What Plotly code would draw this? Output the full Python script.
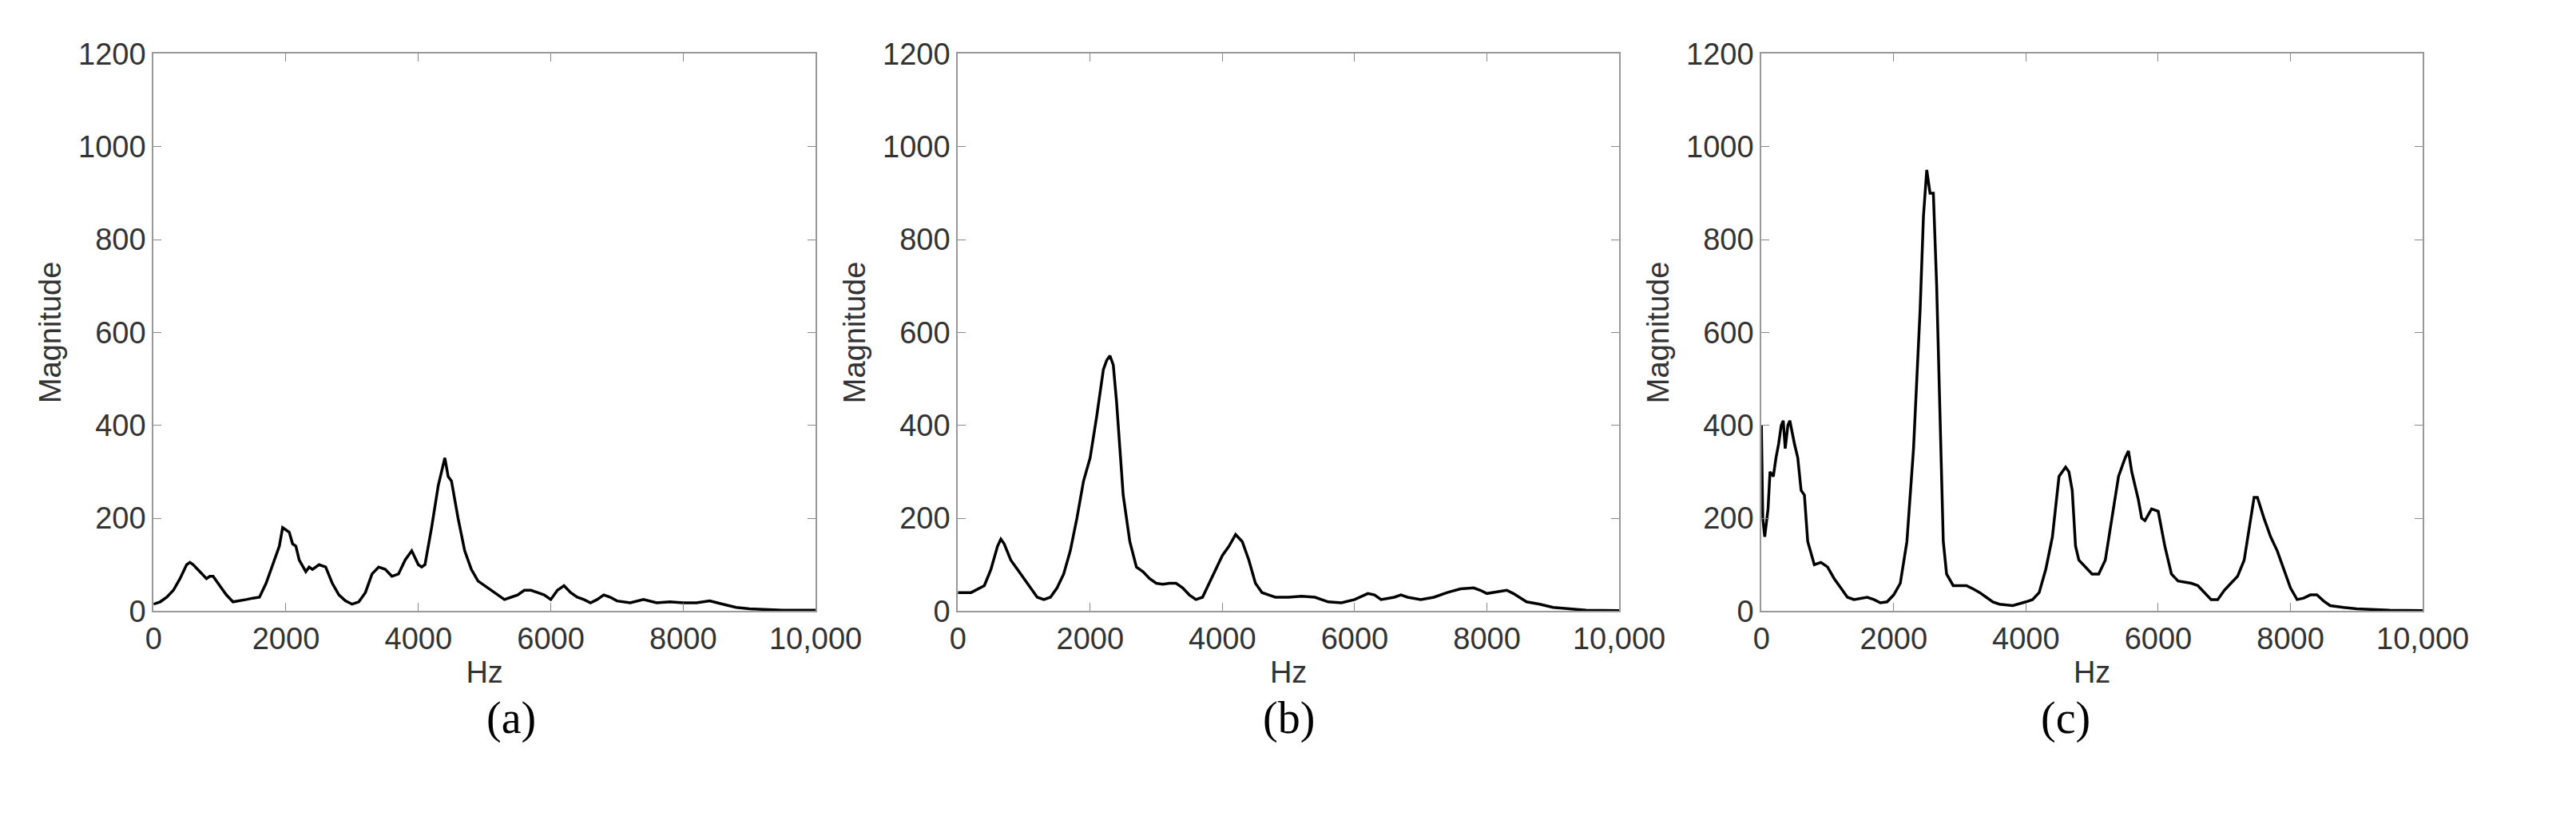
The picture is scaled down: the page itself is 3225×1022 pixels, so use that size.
import plotly.graph_objects as go

xa = [0,100,200,300,400,500,550,600,700,800,850,900,1000,1100,1200,1300,1400,1500,1600,1700,1800,1900,1950,2000,2050,2100,2150,2200,2300,2350,2400,2500,2600,2700,2800,2900,3000,3100,3200,3300,3400,3500,3600,3700,3800,3900,4000,4050,4100,4200,4300,4400,4450,4500,4600,4700,4800,4900,5000,5100,5200,5300,5400,5500,5600,5700,5800,5900,6000,6100,6200,6300,6400,6500,6600,6700,6800,6900,7000,7200,7400,7600,7800,8000,8200,8400,8600,8800,9000,9500,10000]
ya = [15,20,30,45,70,100,105,100,85,70,75,75,55,35,20,22,25,28,30,60,100,140,180,175,170,145,140,110,85,95,90,100,95,60,35,22,15,20,40,80,95,90,75,80,110,130,100,95,100,180,270,330,290,280,200,130,90,65,55,45,35,25,30,35,45,45,40,35,25,45,55,40,30,25,18,25,35,30,22,18,25,18,20,18,18,22,15,8,5,2,2]

xb = [0,200,400,500,600,650,700,800,900,1000,1100,1200,1300,1400,1500,1600,1700,1800,1900,2000,2100,2200,2250,2300,2350,2400,2450,2500,2600,2700,2800,2900,3000,3100,3200,3300,3400,3500,3600,3700,3800,3900,4000,4100,4200,4300,4400,4500,4600,4700,4800,5000,5200,5400,5600,5800,6000,6200,6300,6400,6600,6700,6800,7000,7200,7400,7600,7800,7900,8000,8200,8300,8400,8600,8800,9000,9500,10000]
yb = [40,40,55,90,140,155,145,110,90,70,50,30,25,30,50,80,130,200,280,330,420,520,540,550,530,450,350,250,150,95,85,70,60,58,60,60,50,35,25,30,60,90,120,140,165,150,110,60,40,35,30,30,32,30,20,18,25,38,35,25,30,35,30,25,30,40,48,50,45,38,42,45,38,20,15,8,2,1]

xc = [0,20,50,100,130,180,220,260,300,330,360,400,430,470,500,550,600,650,700,800,900,1000,1100,1200,1300,1400,1500,1600,1700,1800,1900,2000,2100,2200,2300,2400,2450,2500,2550,2600,2650,2700,2750,2800,2900,3000,3100,3200,3300,3400,3500,3600,3800,4000,4100,4200,4300,4400,4500,4600,4650,4700,4750,4800,4900,5000,5100,5200,5300,5400,5500,5550,5600,5700,5750,5800,5900,6000,6100,6200,6300,6500,6600,6700,6800,6900,7000,7100,7200,7300,7400,7450,7500,7600,7700,7800,7900,8000,8100,8200,8300,8400,8500,8600,8800,9000,9500,10000]
yc = [400,200,160,220,300,290,330,360,400,410,350,400,410,380,360,330,260,250,150,100,105,95,70,50,30,25,28,30,25,18,20,35,60,150,350,650,850,950,900,900,700,400,150,80,55,55,55,48,40,30,20,15,12,20,25,40,90,160,290,310,300,260,140,110,95,80,80,110,200,290,330,345,300,240,200,195,220,215,140,80,65,60,55,40,25,25,45,60,75,110,200,245,245,200,160,130,90,50,25,28,35,35,22,12,8,5,2,1]

labels = ["(a)", "(b)", "(c)"]
yticks = [0, 200, 400, 600, 800, 1000, 1200]
xticks = [0, 2000, 4000, 6000, 8000, 10000]
xticktext = ["0", "2000", "4000", "6000", "8000", "10,000"]

W, H = 3225, 1022
doms = [(177, 1024), (1206, 2052), (2234, 3080)]
ytop, ybot = 40, 768
FS = 38

fig = go.Figure()
data = [(xa, ya), (xb, yb), (xc, yc)]
for i, ((x, y), (l, r)) in enumerate(zip(data, doms)):
    n = "" if i == 0 else str(i + 1)
    fig.add_trace(go.Scatter(x=x, y=y, mode="lines", line=dict(color="black", width=3.5),
                             xaxis="x" + n, yaxis="y" + n, showlegend=False))
    ax = dict(domain=[l / W, r / W], range=[0, 10000], tickvals=xticks, ticktext=xticktext,
              ticks="inside", ticklen=10, tickcolor="#888", showline=True, linecolor="#999",
              linewidth=2, mirror="ticks", showgrid=False, zeroline=False,
              tickfont=dict(family="Liberation Sans", size=FS, color="#333"),
              title=dict(text="Hz", font=dict(family="Liberation Sans", size=FS, color="#333"), standoff=8),
              anchor="y" + n)
    ay = dict(domain=[1 - ybot / H, 1 - ytop / H], range=[0, 1200], tickvals=yticks,
              ticks="inside", ticklen=10, tickcolor="#888", showline=True, linecolor="#999",
              linewidth=2, mirror="ticks", showgrid=False, zeroline=False,
              tickfont=dict(family="Liberation Sans", size=FS, color="#333"),
              title=dict(text="Magnitude", font=dict(family="Liberation Sans", size=FS, color="#333"), standoff=10),
              anchor="x" + n)
    fig.update_layout(**{"xaxis" + n: ax, "yaxis" + n: ay})
    fig.add_annotation(text=labels[i], x=(l + r) / 2 / W, y=1 - 943 / H, xref="paper", yref="paper",
                       showarrow=False, font=dict(family="Liberation Serif", size=56, color="black"))

fig.update_layout(width=W, height=H, margin=dict(l=0, r=0, t=0, b=0),
                  plot_bgcolor="white", paper_bgcolor="white")
fig.write_html("out.html")
